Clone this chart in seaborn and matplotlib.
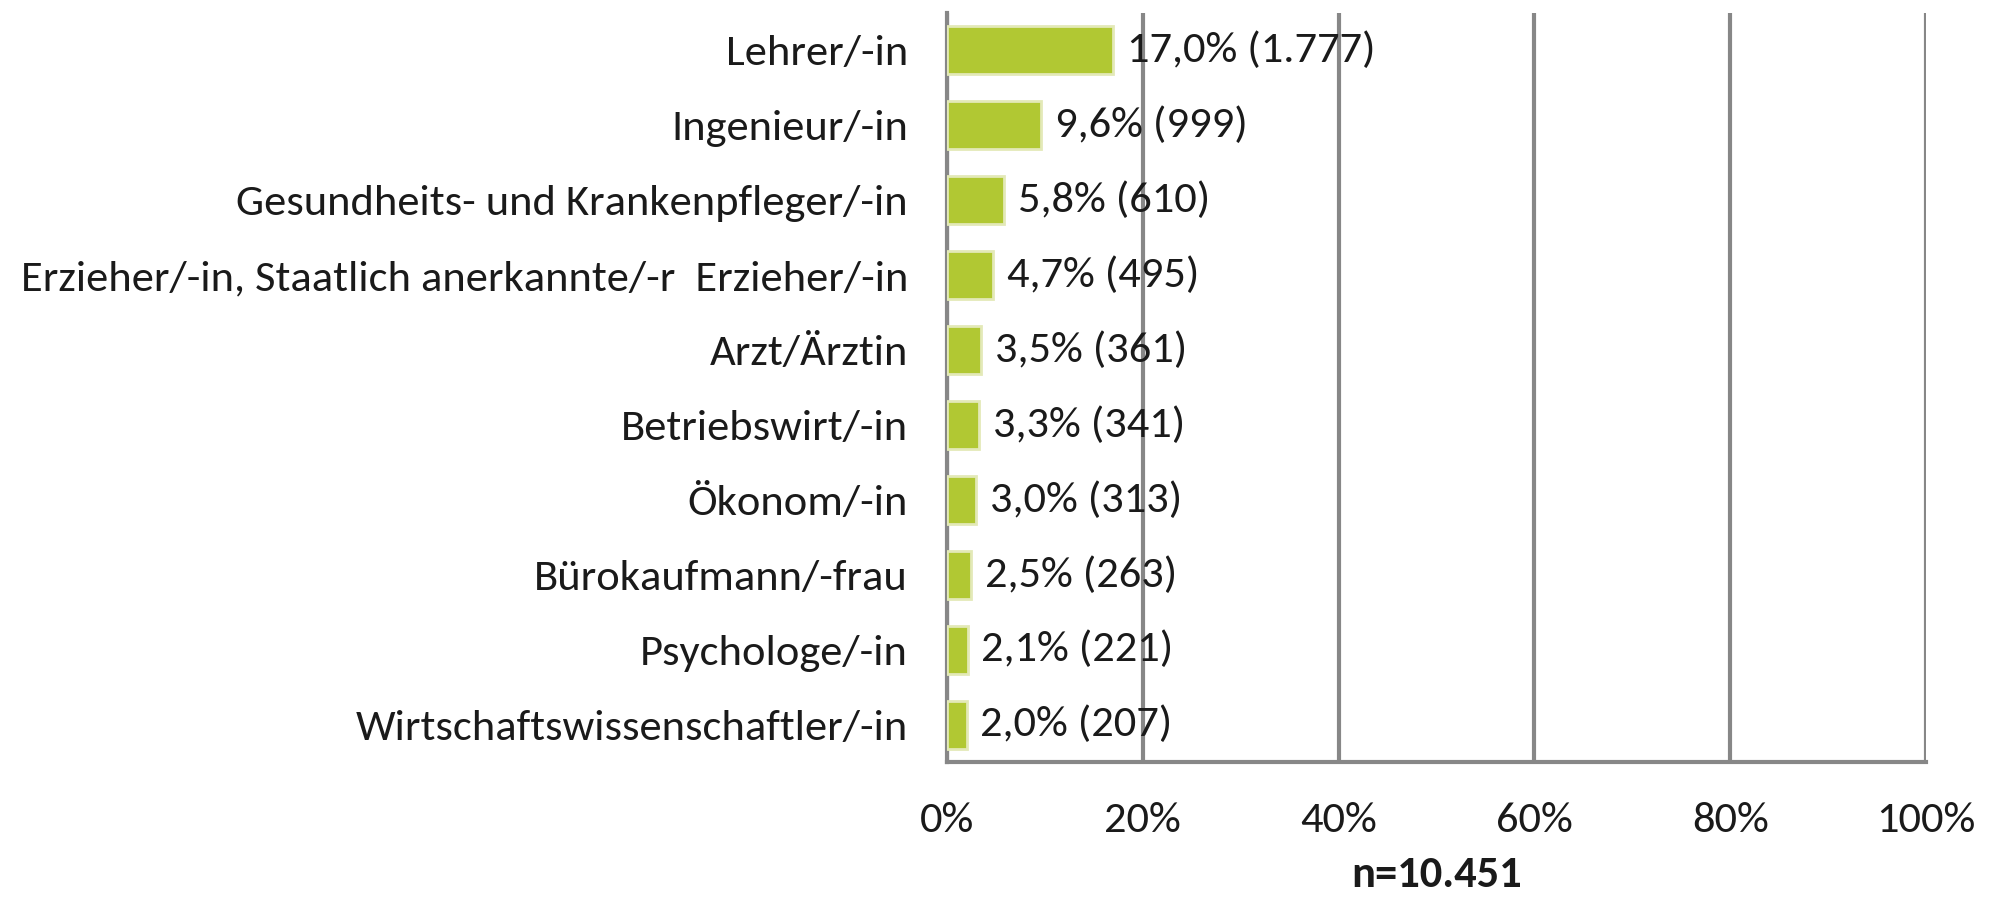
import numpy as np
import pandas as pd
import seaborn as sns
import matplotlib.pyplot as plt
from matplotlib.ticker import FuncFormatter

# data
berufe = [
    "Lehrer/-in",
    "Ingenieur/-in",
    "Gesundheits- und Krankenpfleger/-in",
    "Erzieher/-in, Staatlich anerkannte/-r  Erzieher/-in",
    "Arzt/Ärztin",
    "Betriebswirt/-in",
    "Ökonom/-in",
    "Bürokaufmann/-frau",
    "Psychologe/-in",
    "Wirtschaftswissenschaftler/-in",
]
anteil = [17.0, 9.6, 5.8, 4.7, 3.5, 3.3, 3.0, 2.5, 2.1, 2.0]
anzahl = ["1.777", "999", "610", "495", "361", "341", "313", "263", "221", "207"]
n_label = "n=10.451"

df = pd.DataFrame({"beruf": berufe, "anteil": anteil, "anzahl": anzahl})

sns.set_style("white")
plt.rcParams["font.family"] = ["Carlito", "Open Sans", "DejaVu Sans"]

grey = "#878787"
green = "#b1c833"
fs = 32

fig = plt.figure(figsize=(19.93, 8.99), dpi=100)
ax = fig.add_axes([947 / 1993, 1 - 762 / 899, (1926 - 947) / 1993, (762 - 13) / 899])

sns.barplot(data=df, x="anteil", y="beruf", color=green, width=0.64,
            saturation=1, edgecolor="#e3e9b8", linewidth=2, ax=ax, zorder=3)

for i, row in df.iterrows():
    ax.annotate(f"{row.anteil:.1f}%".replace(".", ",") + f" ({row.anzahl})",
                xy=(row.anteil, i), xytext=(10, 0), textcoords="offset points",
                va="center", ha="left", fontsize=fs, color="#1a1a1a")

ax.set_xlim(0, 100)
ax.set_xticks(np.arange(0, 101, 20))
ax.xaxis.set_major_formatter(FuncFormatter(lambda v, p: f"{v:.0f}%"))
ax.grid(axis="x", color=grey, linewidth=3, zorder=0)
ax.set_axisbelow(True)

# category boundaries as tick marks
ax.set_yticks(np.arange(len(berufe)))
ax.set_yticks(np.arange(len(berufe) + 1) - 0.5, minor=True)
ax.tick_params(axis="y", which="major", length=0, pad=28, labelsize=fs, labelcolor="#1a1a1a")
ax.tick_params(axis="y", which="minor", length=10, width=3, color=grey, direction="out")
ax.tick_params(axis="x", length=10, width=3, color=grey, pad=19, labelsize=fs,
               labelcolor="#1a1a1a", direction="out")

for side in ["top", "right"]:
    ax.spines[side].set_visible(False)
for side in ["left", "bottom"]:
    ax.spines[side].set_color(grey)
    ax.spines[side].set_linewidth(3)

ax.set_ylabel("")
ax.set_xlabel(n_label, fontsize=fs, fontweight="bold", labelpad=12, color="#1a1a1a")

fig.savefig("out.png", dpi=100)
